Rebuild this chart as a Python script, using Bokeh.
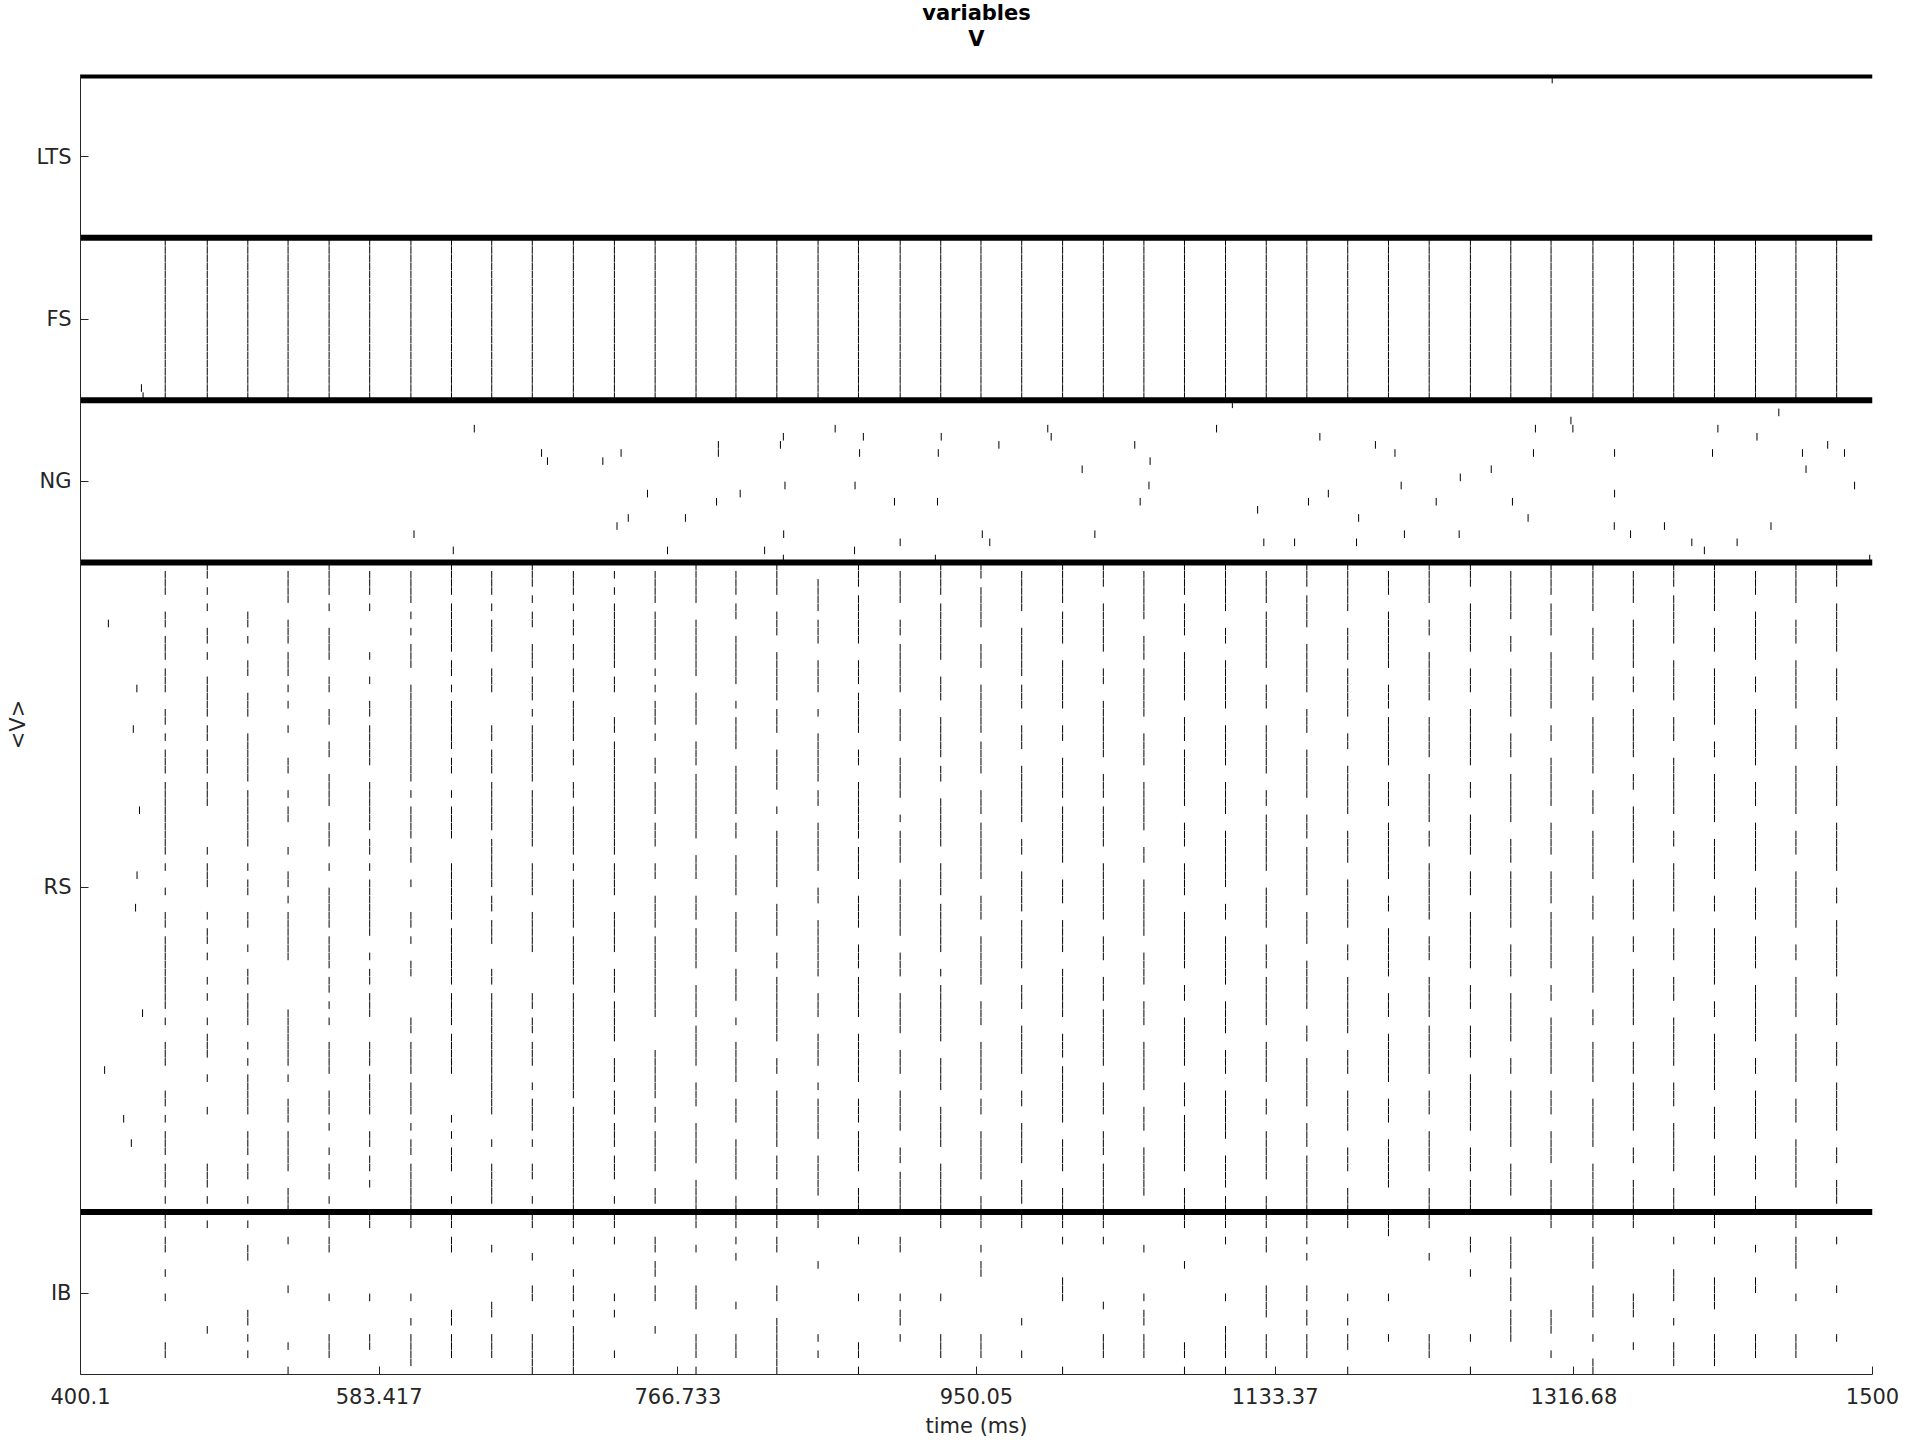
from bokeh.plotting import figure
from bokeh.models import FixedTicker, Range1d, Title
from bokeh.embed import file_html
from bokeh.resources import INLINE

# ---------------- data ----------------
pop_names = ["IB", "RS", "NG", "FS", "LTS"]          # bottom to top
pop_sizes = [20, 80, 20, 20, 20]

title_lines = ["variables", "V"]
x_tick_values = [400.1, 583.417, 766.733, 950.05, 1133.37, 1316.68, 1500]
x_tick_labels = ["400.1", "583.417", "766.733", "950.05", "1133.37", "1316.68", "1500"]

# gamma cycle times (ms), read from the FS columns
cycle_times = [452.1, 477.9, 502.8, 527.5, 552.7, 577.6, 602.9, 627.8, 652.5, 677.4,
               702.6, 727.8, 752.8, 777.9, 802.4, 827.5, 852.8, 877.6, 903.2, 928.1,
               952.8, 977.8, 1002.9, 1027.9, 1052.8, 1077.7, 1102.9, 1127.9, 1152.8, 1177.9,
               1202.9, 1227.9, 1253.2, 1278.0, 1302.7, 1328.4, 1353.2, 1378.0, 1403.0, 1428.2,
               1453.0, 1478.0]

# FS: every cell fires on every cycle, plus early spikes (time, row from top)
fs_extra_times = [437.5, 438.5]
fs_extra_rows = [18, 19]

# LTS spikes
lts_times = [1303.4]
lts_rows = [0]

# NG spikes (time, row from top of NG block)
ng_times = [641.8, 683.1, 686.7, 720.7, 731.9, 748.1, 736.3, 729.4, 771.4, 604.8, 628.9, 760.4,
            1107.1, 863.3, 993.8, 1097.4, 831.5, 880.6, 928.4, 995.9, 791.6, 791.6, 829.7, 963.8,
            1047.2, 878.3, 926.6, 1056.6, 1014.9, 832.5, 875.5, 1055.9, 805.0, 790.5, 899.7, 926.1,
            1050.5, 1122.6, 831.7, 953.6, 1022.7, 903.2, 958.2, 1126.4, 1145.3, 820.0, 875.2, 831.5,
            924.8,
            1442.5, 1314.9, 1293.1, 1316.1, 1405.1, 1160.8, 1429.1, 1194.9, 1472.5, 1206.9, 1291.9,
            1341.7, 1401.8, 1457.0, 1482.8, 1266.0, 1459.2, 1247.0, 1210.7, 1489.0, 1166.0, 1341.7,
            1153.8, 1232.2, 1279.0, 1184.6, 1288.6, 1341.5, 1372.3, 1437.7, 1212.7, 1246.3, 1351.5,
            1183.3, 1389.1, 1416.9, 1396.8, 1498.3]
ng_rows = [3, 6, 7, 7, 6, 11, 14, 15, 14, 16, 18, 18,
           0, 3, 3, 3, 4, 4, 4, 4, 5, 6, 5, 5,
           5, 6, 6, 7, 8, 10, 10, 10, 11, 12, 12, 12,
           12, 13, 16, 16, 16, 17, 17, 17, 17, 18, 18, 19,
           19,
           1, 2, 3, 3, 3, 4, 4, 5, 5, 6, 6,
           6, 6, 6, 6, 8, 8, 9, 10, 10, 11, 11,
           12, 12, 12, 14, 14, 15, 15, 15, 16, 16, 16,
           17, 17, 17, 18, 19]

# RS: rows (from top of RS block) that fire on each cycle
rs_cycle_rows = [
    "1-3 6-7 9-11 13-15 18-19 21 23-25 27-35 37 40 43-44 46-54 56 59-61 65-66 68 70-72 74-76 78",
    "0-1 3 5 8-9 11 14-18 20-21 23-25 27-29 35 37-39 43 45-46 48 51 53 56 58-60 63 67 74-76 78",
    "6-7 9 12-13 16-18 21-26 28-34 37 39-40 43-44 47 50-51 53-56 59 61 63-67 70-72 74-75 78",
    "1-4 7-9 11-13 15 17 20 24-25 28 30-31 35 38-39 41 43-48 55-61 63 66-68 70-74 77-79",
    "0-3 5 8-11 14-15 18-19 22-23 26-29 32-34 37 40-44 46-49 51-52 54 56 59-62 65-67 69 72 74-75 78",
    "1-3 5 11 14 17-18 20-24 27-32 34-35 37 39-45 48 50-51 53-55 59-61 63-67 70-71 73-74 76",
    "1-4 6 8 10-12 15-26 28 30-33 35-36 39 43-44 46 49-50 56-57 59-62 64-67 69 71-72 74-79",
    "0-3 5-10 12-13 15 17-22 24-25 28 30-33 37-43 45-51 53-56 58-62 68 70 72-74 78",
    "1-3 5 7-10 13-15 20-21 23-25 27-32 34-39 41-42 44-46 50-51 53-67 71 74-78",
    "0-2 4 6-7 10-12 14-16 18 20-26 28-34 37-40 43-47 53-54 56-57 59-61 64 66-69 71 74-75 78",
    "1-3 5 7-8 10-11 13-15 17-21 23-24 27-28 30-35 37 39-44 46-51 53-65 67-79",
    "1 3 5-12 14-15 19-20 22-35 37-40 43-47 50-52 54-58 61-63 65-67 69-71 73-75 78",
    "1-4 6-11 13 15 17-19 21 24-25 27-30 32-34 37-38 41-44 46-55 60-65 67-68 70-74 77-78",
    "0-4 7-13 16-19 22-24 26-33 36-38 41-43 45-49 52-55 57-61 64-66 69-73 76-79",
    "1-3 5-6 9-14 17 19-22 25-30 32-33 36-40 43-47 50-53 56 59-63 66-68 71-75 78-79",
    "0-3 6-8 11-16 18-20 23-27 30 33-39 42-45 48-49 51-58 61-62 65-71 73-75 77-79",
    "2-5 7-9 12-15 18 21-26 28-29 32-37 40-41 44-50 53-55 58-61 64 66-70 73-77",
    "0-2 4-9 12-14 16-20 23-24 27-33 35-38 41-44 47-49 51-55 58-63 66-68 70-74 77-79",
    "1-4 7-8 10-15 18-21 24-28 31 33-36 39-45 48-50 53-57 60-62 65-69 72-73 75-79",
    "0-3 5-11 14-16 19-23 25-26 29-34 37-40 42-47 50 52-58 61-64 67-71 74-79",
    "0-1 3-7 10-12 15-20 22-25 28-30 32-38 41-43 46-51 54-56 59-64 66-67 70-75 78-79",
    "1-5 8-13 15-17 20-22 25-31 34-35 38-42 44-49 52-54 57-62 65-66 69-73 76-78",
    "0-4 6-9 12-17 20-21 24-28 30-36 39-41 44-47 50-55 58-60 62-68 71-74 77-79",
    "0-2 5-10 13-14 17-23 26-28 30-34 37-43 46-48 51-53 55-61 64-67 70-72 74-79",
    "1-6 9-11 13-18 21-24 27-32 35-36 39-45 48-51 54-56 59-64 67-69 72-77",
    "0-3 5-8 11-16 19-21 23-29 32-34 37-40 43-49 52-53 56-61 64-66 68-74 77-79",
    "0-5 8-9 12-17 20-24 27-30 33-39 42-43 46-51 54-57 60-62 65-70 73-76 78-79",
    "1-4 6-12 15-17 20-25 28-29 31-37 40-44 47-49 51-56 59-63 66-67 70-75 78-79",
    "0-2 4-7 10-15 18-20 23-28 31-33 35-40 43-46 49-54 57-58 61-66 69-71 73-79",
    "0-5 8-11 13-18 21-22 25-30 33-36 39-44 47-48 51-57 60-62 65-69 72-74 77-79",
    "1-3 6-12 15-17 19-24 27-29 32-38 41-42 45-50 53-55 58-63 66-68 71-76",
    "0-4 7-8 11-16 19-23 26-31 33-34 37-43 46-48 51-55 57-62 65-67 70-74 77-79",
    "0-2 5-10 13-15 18-24 27-28 31-35 38-40 43-49 52-54 57-60 63-69 72-74 76-79",
    "1-6 9-10 13-18 21-23 26-31 34-36 38-44 47-50 53-58 61-62 65-71 74-77",
    "0-3 5-8 11-17 20-21 24-29 32-35 38-41 43-49 52-53 56-62 65-67 70-73 76-79",
    "0-5 8-11 14-16 19-25 28-30 33-38 41-43 46-52 55-56 59-63 66-71 74-79",
    "1-4 7-12 14-15 18-23 26-27 30-36 39-43 46-47 50-56 59-62 64-69 72-73 76-79",
    "0-2 4-9 12-16 19-21 24-30 33-34 37-42 45-48 51-53 56-61 64-66 69-74 77-79",
    "0-5 8-10 13-19 22-23 26-31 34-38 41-42 45-51 54-55 58-64 67-70 73-77",
    "1-3 6-11 14-15 18-24 27-29 32-37 40-43 46-49 52-58 61-62 65-70 73-75 78-79",
    "0-4 7-9 12-17 20-22 25-30 33-35 38-44 47-48 51-55 58-63 66-68 71-76",
    "0-2 5-10 13-16 19-22 25-29 32-37 40-41 44-50 53-56 59-61 64-69 72-73 76-78",
]
rs_extra_times = [417.2, 434.7, 432.5, 436.3, 434.8, 433.9, 438.2, 414.9, 426.6, 431.3]
rs_extra_rows = [7, 15, 20, 30, 38, 42, 55, 62, 68, 71]

# IB: rows (from top of IB block) that fire on each cycle
ib_cycle_rows = [
    "0-1 3-4 7 10 16-17", "1 14", "1 4-5 12-13 15 17", "3 9 16 19", "0-1 3-4 10 15-17",
    "0-1 10 15-16", "0-1 10 13 15-18", "0-1 3-4 12-13 15-17", "4 11-12 15-17", "0-1 5 9-10 15-19",
    "0-1 3 7 9-10 12 14-19", "0-1 3 10 12 17", "3-4 6-7 9-10 14", "0-1 4 9-11 15-17 19",
    "0-1 3 5 11 15-17", "0-1 3-4 9-10 13-19", "0-1 6 15 17", "3 10 16-17 19", "3-4 10 12-13 15",
    "0-1 10 15-17", "0-1 4 6-7 15-17", "0-1 13 17", "0-1 3 8-10 19", "0-1 3 11 15-17",
    "4 10 12-13 15-17", "0-1 6 16-17 19", "0-1 3 10 14-17 19", "0-1 3-4 9-12 15-17",
    "0-1 3 5 9-10 12-13 15-17", "0-1 10 13 15-16 19", "0-2 10 15", "0-1 5 15-17", "3-4 7 15 19",
    "3-6 8-10 12-15", "0-1 12-14 17", "0-1 3-6 9-12 15 18-19", "0-1 10-12 16", "3 7-10 13 16-18",
    "0-1 3 8-11 15-18", "4 8-9 15-17", "0-1 3-6 10 15-17", "3 9 15",
]


# ---------------- helpers ----------------
def parse_rows(s):
    out = []
    for tok in s.split():
        if "-" in tok:
            a, b = tok.split("-")
            out.extend(range(int(a), int(b) + 1))
        else:
            out.append(int(tok))
    return out


pop_top = {}
acc = 0
for name, size in zip(pop_names, pop_sizes):
    acc += size
    pop_top[name] = acc
total_cells = acc

sx, sy = [], []


def add_spike(pop, t, row):
    sx.append(t)
    sy.append(pop_top[pop] - 1 - row)


for t in cycle_times:
    for r in range(pop_sizes[pop_names.index("FS")]):
        add_spike("FS", t, r)
for t, r in zip(fs_extra_times, fs_extra_rows):
    add_spike("FS", t, r)
for t, r in zip(lts_times, lts_rows):
    add_spike("LTS", t, r)
for t, r in zip(ng_times, ng_rows):
    add_spike("NG", t, r)
for t, s in zip(cycle_times, rs_cycle_rows):
    for r in parse_rows(s):
        add_spike("RS", t, r)
for t, r in zip(rs_extra_times, rs_extra_rows):
    add_spike("RS", t, r)
for t, s in zip(cycle_times, ib_cycle_rows):
    for r in parse_rows(s):
        add_spike("IB", t, r)

# ---------------- figure ----------------
FONT = "DejaVu Sans"
TXT = "#262626"

x0, x1 = x_tick_values[0], x_tick_values[-1]
y1 = total_cells + 0.12
p = figure(width=1920, height=1440, output_backend="svg", toolbar_location=None,
           x_range=Range1d(x0, x1), y_range=Range1d(0, y1),
           min_border_left=80, min_border_right=48, min_border_top=74, min_border_bottom=65,
           title=title_lines[0])
# title panels: p.title ("variables") is outermost; added panels stack outward from the
# frame in the order they are added: first a blank spacer, then "V"
p.title.text_font = FONT
p.title.text_font_size = "21px"
p.title.text_font_style = "bold"
p.title.text_color = "black"
p.title.align = "center"
p.title.vertical_align = "top"
p.title.standoff = 0
p.add_layout(Title(text=" ", text_font=FONT, text_font_size="12px",
                   align="center", vertical_align="top", standoff=6), "above")
p.add_layout(Title(text=title_lines[1], text_font=FONT, text_font_size="21px",
                   text_font_style="bold", text_color="black", align="center",
                   vertical_align="top", standoff=0), "above")

p.background_fill_color = "white"
p.border_fill_color = "white"
p.outline_line_color = None
p.xgrid.visible = False
p.ygrid.visible = False

# spikes
p.segment(x0=sx, y0=[y + 0.03 for y in sy], x1=sx, y1=[y + 0.97 for y in sy],
          line_color="black", line_width=1)

# population separators
tops = [pop_top[n] for n in pop_names]
p.segment(x0=[x0] * len(tops), y0=tops, x1=[x1] * len(tops), y1=tops,
          line_color="black", line_width=6)

# axes
xa = p.xaxis[0]
xa.ticker = FixedTicker(ticks=x_tick_values)
xa.major_label_overrides = {v: l for v, l in zip(x_tick_values, x_tick_labels)}
xa.axis_label = "time (ms)"
ya = p.yaxis[0]
ycent = []
acc = 0
for s in pop_sizes:
    ycent.append(acc + s / 2)
    acc += s
ya.ticker = FixedTicker(ticks=ycent)
ya.major_label_overrides = {c: n for c, n in zip(ycent, pop_names)}
ya.axis_label = "<V>"

for ax in (xa, ya):
    ax.major_tick_in = 8
    ax.major_tick_out = 0
    ax.minor_tick_line_color = None
    ax.major_tick_line_color = TXT
    ax.axis_line_color = TXT
    ax.major_label_text_font = FONT
    ax.major_label_text_font_size = "21px"
    ax.major_label_text_color = TXT
    ax.axis_label_text_font = FONT
    ax.axis_label_text_font_size = "21px"
    ax.axis_label_text_font_style = "normal"
    ax.axis_label_text_color = TXT
xa.major_label_standoff = 13
xa.axis_label_standoff = 7
ya.major_label_standoff = 9
ya.axis_label_standoff = 4

open("out.html", "w").write(file_html(p, INLINE))
